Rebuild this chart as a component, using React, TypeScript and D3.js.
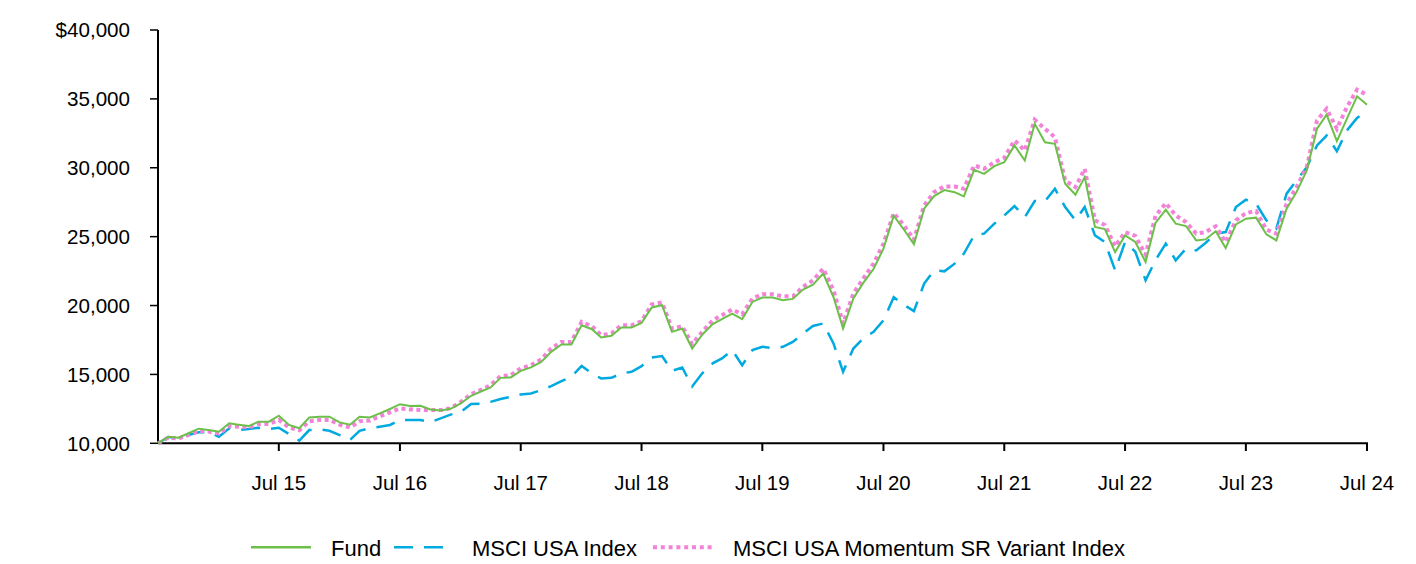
import React from "react";
import * as d3 from "d3";

const months: Date[] = d3.timeMonth.range(new Date(2014, 6, 1), new Date(2024, 7, 1));

const fund: number[] = [
  10000, 10480, 10410, 10730, 11060, 10960, 10840, 11450, 11350, 11250, 11570, 11570,
  12000, 11330, 11090, 11880, 11930, 11930, 11520, 11350, 11930, 11880, 12170, 12490,
  12840, 12700, 12720, 12460, 12380, 12500, 12900, 13450, 13740, 14060, 14750, 14780,
  15260, 15510, 15910, 16640, 17170, 17170, 18570, 18280, 17680, 17800, 18400, 18400,
  18740, 19860, 20020, 18090, 18330, 16880, 17900, 18650, 19010, 19420, 19010, 20260,
  20580, 20580, 20380, 20480, 21160, 21520, 22320, 20620, 18330, 20510, 21640, 22650,
  24130, 26520, 25500, 24450, 27030, 27950, 28380, 28230, 27920, 29850, 29560, 30120,
  30400, 31620, 30530, 33190, 31850, 31740, 28840, 28040, 29320, 25700, 25550, 23880,
  25090, 24610, 23160, 26000, 26960, 25940, 25770, 24730, 24800, 25400, 24170, 25890,
  26300, 26380, 25170, 24730, 27030, 28230, 29800, 32830, 33860, 31930, 33550, 35190,
  34570,
];

const msciUsa: number[] = [
  10000, 10460, 10380, 10600, 10800, 10800, 10480, 11090, 10960, 11040, 11130, 11040,
  11130, 10670, 10190, 10960, 11010, 10910, 10600, 10240, 10910, 11090, 11200, 11330,
  11690, 11690, 11690, 11540, 11810, 12080, 12290, 12850, 12870, 13010, 13210, 13380,
  13550, 13620, 13860, 14150, 14510, 14830, 15620, 15070, 14710, 14750, 15070, 15190,
  15600, 16230, 16330, 15260, 15500, 14120, 15100, 15800, 16160, 16760, 15670, 16760,
  17000, 16900, 17000, 17360, 17970, 18520, 18700, 17250, 15190, 16880, 17610, 18090,
  18930, 20600, 20050, 19600, 21600, 22560, 22480, 23040, 23770, 25090, 25220, 25940,
  26540, 27220, 26420, 27580, 27580, 28480, 27150, 26180, 27150, 25090, 24610, 22560,
  24610, 23900, 21830, 23300, 24490, 23280, 24130, 24000, 24540, 25220, 25330, 27150,
  27680, 27390, 26180, 25580, 28120, 29080, 30040, 31620, 32340, 31200, 32700, 33620,
  34100,
];

const momentum: number[] = [
  10000, 10400, 10350, 10600, 10900, 10850, 10700, 11250, 11200, 11150, 11400, 11400,
  11700, 11150, 10950, 11600, 11700, 11700, 11350, 11150, 11600, 11650, 11950, 12250,
  12540, 12460, 12410, 12410, 12410, 12540, 13010, 13570, 13860, 14220, 14880, 14950,
  15440, 15670, 16090, 16880, 17360, 17360, 18810, 18500, 17850, 17970, 18570, 18570,
  18860, 20090, 20220, 18330, 18500, 17200, 18100, 18930, 19300, 19710, 19370, 20510,
  20820, 20820, 20670, 20670, 21350, 21830, 22680, 21110, 18700, 20870, 21960, 23040,
  24490, 26710, 25820, 24780, 27270, 28230, 28650, 28640, 28480, 30170, 29930, 30400,
  30720, 31980, 31250, 33480, 32830, 32220, 29080, 28590, 29930, 26180, 25850, 24300,
  25330, 25050, 23700, 26500, 27430, 26540, 26060, 25220, 25330, 25750, 24610, 26180,
  26710, 26860, 25510, 25220, 27390, 28590, 30040, 33430, 34280, 32830, 34390, 35670,
  35290,
];

const yTicks: number[] = [10000, 15000, 20000, 25000, 30000, 35000, 40000];
const xTickLabels: string[] = ["Jul 15", "Jul 16", "Jul 17", "Jul 18", "Jul 19", "Jul 20", "Jul 21", "Jul 22", "Jul 23", "Jul 24"];
const xTickDates: Date[] = [2015, 2016, 2017, 2018, 2019, 2020, 2021, 2022, 2023, 2024].map((y) => new Date(y, 6, 1));

const seriesNames: string[] = ["Fund", "MSCI USA Index", "MSCI USA Momentum SR Variant Index"];

const GREEN = "#6cc04a";
const BLUE = "#00a9e0";
const PINK = "#f283d9";
const FONT = "'Liberation Sans', Arial, sans-serif";

export default function App() {
  const W = 1416;
  const H = 564;
  const x = d3.scaleTime().domain([months[0], months[months.length - 1]]).range([158, 1367]);
  const y = d3.scaleLinear().domain([10000, 40000]).range([443.3, 30]);
  const mk = (vals: number[]) =>
    d3
      .line<number>()
      .x((_, i) => x(months[i]))
      .y((v) => y(v))(vals) || "";

  const fmt = (v: number) => (v === 40000 ? "$" : "") + d3.format(",")(v);

  return (
    <div style={{ position: "absolute", left: 0, top: 0, width: W, height: H, background: "#fff" }}>
      <svg width={W} height={H} style={{ display: "block" }}>
        {/* y axis */}
        <line x1={158} x2={158} y1={y(40000)} y2={y(10000)} stroke="#000" strokeWidth={2} />
        {yTicks.map((t) => (
          <g key={t}>
            <line x1={150} x2={158} y1={y(t)} y2={y(t)} stroke="#000" strokeWidth={1.5} />
            <text x={130} y={y(t) + 7.2} textAnchor="end" fontFamily={FONT} fontSize={20.6} fill="#000">
              {fmt(t)}
            </text>
          </g>
        ))}
        {/* x axis */}
        <line x1={158} x2={x(months[months.length - 1]) + 1} y1={443.3} y2={443.3} stroke="#000" strokeWidth={2} />
        {xTickDates.map((d, i) => (
          <g key={i}>
            <line x1={x(d)} x2={x(d)} y1={443.3} y2={451} stroke="#000" strokeWidth={2} />
            <text x={x(d)} y={490} textAnchor="middle" fontFamily={FONT} fontSize={20.4} fill="#000">
              {xTickLabels[i]}
            </text>
          </g>
        ))}
        {/* series */}
        <path d={mk(msciUsa)} fill="none" stroke={BLUE} strokeWidth={2.5} strokeDasharray="19,11" />
        <path d={mk(momentum)} fill="none" stroke={PINK} strokeWidth={4} strokeDasharray="4,3.5" />
        <path d={mk(fund)} fill="none" stroke={GREEN} strokeWidth={2} />
        {/* legend */}
        <line x1={251} x2={311} y1={547.3} y2={547.3} stroke={GREEN} strokeWidth={2.5} />
        <text x={331} y={556} fontFamily={FONT} fontSize={22} fill="#000">{seriesNames[0]}</text>
        <line x1={394} x2={444} y1={547.3} y2={547.3} stroke={BLUE} strokeWidth={2.5} strokeDasharray="19,11" />
        <text x={472} y={556} fontFamily={FONT} fontSize={22} fill="#000">{seriesNames[1]}</text>
        <line x1={653} x2={713} y1={547.3} y2={547.3} stroke={PINK} strokeWidth={4} strokeDasharray="4,3.8" />
        <text x={733} y={556} fontFamily={FONT} fontSize={22} fill="#000">{seriesNames[2]}</text>
      </svg>
    </div>
  );
}
